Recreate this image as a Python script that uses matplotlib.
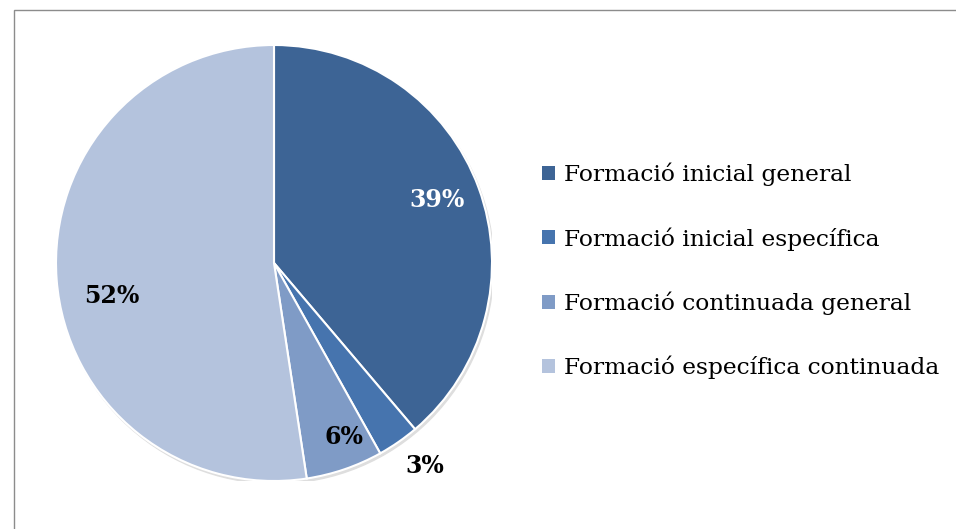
import matplotlib
matplotlib.use('Agg')
import matplotlib.pyplot as plt
from matplotlib.patches import Rectangle, Patch, Circle
import numpy as np

categories = ['Formació inicial general', 'Formació inicial específica',
              'Formació continuada general', 'Formació específica continuada']
shares = [38.8, 3.1, 5.7, 52.4]
colors = ['#3D6495', '#4674AE', '#7F9BC6', '#B4C3DD']
label_colors = ['white', 'black', 'black', 'black']
label_dist = [0.80, 1.16, 0.86, 0.76]
label_turn = [1, 2, 3, 7]   # degrees, nudges label along the arc

plt.rcParams['font.family'] = ['DejaVu Serif']

fig = plt.figure(figsize=(9.56, 5.29), dpi=100)

# chart frame
fig.patches.append(Rectangle((14 / 956, -0.05), 1.0, 1 - 10 / 529 + 0.05,
                             transform=fig.transFigure, fill=False,
                             edgecolor='#8c8c8c', linewidth=1.0))

ax = fig.add_axes([56 / 956, 48 / 529, 436 / 956, 436 / 529])
# soft shadow behind the pie
ax.add_patch(Circle((0.008, -0.012), 1.0, color='#dedede', zorder=0))
wedges, _ = ax.pie(shares, colors=colors, startangle=90, counterclock=False,
                   radius=1.0, wedgeprops=dict(edgecolor='white', linewidth=1.5))
ax.set_xlim(-1, 1)
ax.set_ylim(-1, 1)
ax.set_aspect('equal')
ax.axis('off')

# percentage labels
for w, s, c, d, t in zip(wedges, shares, label_colors, label_dist, label_turn):
    ang = np.deg2rad((w.theta1 + w.theta2) / 2 + t)
    ax.text(d * np.cos(ang), d * np.sin(ang), f'{round(s)}%', ha='center', va='center',
            color=c, fontsize=17, fontweight='bold')

handles = [Patch(facecolor=c, edgecolor='none') for c in colors]
fig.legend(handles, categories, loc='upper left', bbox_to_anchor=(530 / 956, 1 - 151 / 529),
           frameon=False, fontsize=16.8, handlelength=0.55, handleheight=0.55,
           handletextpad=0.4, labelspacing=1.75, borderpad=0)

plt.savefig('out.png', dpi=100)
plt.close(fig)
